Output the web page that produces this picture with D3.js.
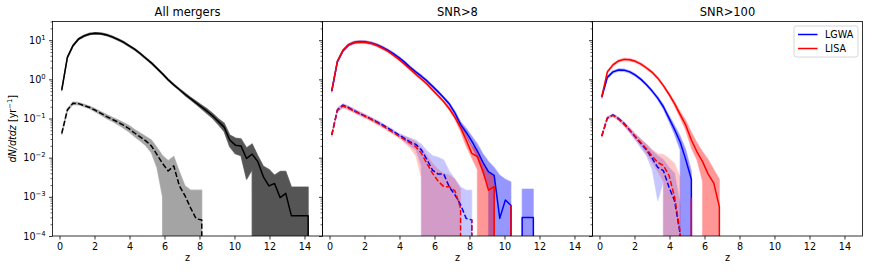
<!DOCTYPE html>
<html><head><meta charset="utf-8">
<script src="https://cdn.jsdelivr.net/npm/d3@7"></script>
<style>body{margin:0;background:#fff} svg{display:block} text{font-family:"DejaVu Sans",sans-serif}</style>
</head><body><svg id="c" width="869" height="272"></svg>
<script>
// ---- data (redshift bin centres; rates given as log10 of dN/dtdz in yr^-1, null = no events) ----
const z = [0.13,0.45,0.77,1.09,1.41,1.73,2.05,2.37,2.69,3.01,3.33,3.65,3.97,4.29,4.61,4.93,5.25,5.57,5.89,6.21,6.53,6.85,7.17,7.49,7.81,8.13,8.45,8.77,9.09,9.41,9.73,10.05,10.37,10.69,11.01,11.33,11.65,11.97,12.29,12.61,12.93,13.25,13.57,13.89,14.21,14.53];

// Panel 1: All mergers
const allTotal   = [-0.27,0.56,0.86,1.03,1.11,1.16,1.175,1.165,1.135,1.085,1.02,0.95,0.86,0.77,0.66,0.54,0.42,0.28,0.14,-0.01,-0.14,-0.26,-0.38,-0.49,-0.60,-0.71,-0.82,-0.94,-1.08,-1.22,-1.55,-1.68,-1.70,-2.02,-1.91,-2.10,-2.49,-2.72,-2.66,-3.02,-2.91,-3.48,-3.48,-3.48,-3.48,null];
const allTotalLo = [-0.29,0.54,0.84,1.01,1.09,1.14,1.155,1.145,1.115,1.065,1.0,0.93,0.84,0.75,0.64,0.52,0.40,0.26,0.12,-0.03,-0.16,-0.28,-0.41,-0.52,-0.64,-0.76,-0.88,-1.0,-1.16,-1.33,-1.72,-1.90,-1.95,-2.55,-2.3,null,null,null,null,null,null,null,null,null,null,null];
const allTotalHi = [-0.25,0.58,0.88,1.05,1.13,1.18,1.195,1.185,1.155,1.105,1.04,0.97,0.88,0.79,0.68,0.56,0.44,0.30,0.16,0.01,-0.12,-0.24,-0.35,-0.46,-0.56,-0.66,-0.76,-0.88,-1.01,-1.12,-1.42,-1.50,-1.52,-1.75,-1.65,-1.95,-2.22,-2.30,-2.45,-2.35,-2.35,-2.75,-2.75,-2.75,-2.75,null];
const allSub     = [-1.38,-0.78,-0.61,-0.62,-0.67,-0.72,-0.79,-0.87,-0.95,-1.02,-1.09,-1.17,-1.26,-1.37,-1.47,-1.57,-1.70,-1.92,-2.15,-2.34,-2.21,-2.72,-2.97,-3.28,-3.56,-3.59,null];
const allSubLo   = [-1.41,-0.81,-0.64,-0.65,-0.70,-0.75,-0.83,-0.91,-1.0,-1.07,-1.15,-1.24,-1.34,-1.46,-1.57,-1.69,-1.87,-2.25,-3.0,null,null,null,null,null,null,null,null];
const allSubHi   = [-1.35,-0.75,-0.58,-0.59,-0.64,-0.69,-0.75,-0.83,-0.90,-0.97,-1.03,-1.10,-1.18,-1.28,-1.37,-1.46,-1.55,-1.74,-1.95,-2.08,-1.97,-2.36,-2.72,-2.83,-2.83,-2.83,null];

// Panel 2: SNR>8
const lgwa8      = [-0.30,0.45,0.73,0.88,0.94,0.96,0.955,0.93,0.885,0.82,0.745,0.655,0.555,0.44,0.31,0.19,0.08,-0.04,-0.18,-0.32,-0.47,-0.63,-0.86,-1.15,-1.35,-1.58,-1.83,-2.12,-2.36,-2.45,-3.55,-3.08,-3.22,null,-3.53,-3.53,-3.53,null];
const lgwa8Lo    = [-0.33,0.42,0.70,0.85,0.91,0.93,0.925,0.90,0.855,0.79,0.715,0.625,0.525,0.41,0.28,0.16,0.05,-0.07,-0.21,-0.35,-0.50,-0.67,-0.91,-1.22,-1.45,-1.72,-2.0,-2.4,-2.75,null,null,null,null,null,null,null,null,null];
const lgwa8Hi    = [-0.27,0.48,0.76,0.91,0.97,0.99,0.985,0.96,0.915,0.85,0.775,0.685,0.585,0.47,0.34,0.22,0.11,-0.01,-0.15,-0.29,-0.44,-0.59,-0.81,-1.08,-1.25,-1.45,-1.65,-1.9,-2.1,-2.25,-2.45,-2.55,-2.62,null,-2.8,-2.8,-2.8,null];
const lisa8      = [-0.29,0.46,0.74,0.88,0.94,0.955,0.95,0.92,0.87,0.80,0.72,0.62,0.51,0.39,0.26,0.13,0.01,-0.12,-0.27,-0.42,-0.57,-0.75,-0.97,-1.23,-1.55,-1.89,-1.97,-2.35,-2.83,-2.74,null,null,-3.22,null];
const lisa8Lo    = [-0.32,0.43,0.71,0.85,0.91,0.925,0.92,0.89,0.84,0.77,0.69,0.59,0.48,0.36,0.23,0.10,-0.02,-0.15,-0.30,-0.45,-0.60,-0.79,-1.02,-1.33,-1.70,-2.0,-2.3,null,null,null,null,null,null,null];
const lisa8Hi    = [-0.26,0.49,0.77,0.91,0.97,0.985,0.98,0.95,0.90,0.83,0.75,0.65,0.54,0.42,0.29,0.16,0.04,-0.09,-0.24,-0.39,-0.54,-0.71,-0.92,-1.13,-1.40,-1.70,-1.80,-2.15,-2.40,-2.45,null,null,null,null];
const lgwa8Sub   = [-1.42,-0.78,-0.66,-0.72,-0.80,-0.87,-0.94,-1.01,-1.08,-1.16,-1.24,-1.33,-1.42,-1.51,-1.60,-1.66,-1.80,-2.05,-2.32,-2.42,-2.42,-2.75,-2.95,-3.2,-3.55,-3.59,null];
const lgwa8SubLo = [-1.46,-0.82,-0.70,-0.76,-0.84,-0.91,-0.98,-1.05,-1.12,-1.20,-1.28,-1.37,-1.46,-1.58,-1.70,-1.80,-2.2,null,null,null,null,null,null,null,null,null,null];
const lgwa8SubHi = [-1.38,-0.74,-0.62,-0.68,-0.76,-0.83,-0.90,-0.97,-1.04,-1.12,-1.20,-1.29,-1.38,-1.44,-1.50,-1.55,-1.66,-1.82,-1.95,-1.99,-2.06,-2.35,-2.55,-2.75,-2.83,-2.83,null];
const lisa8Sub   = [-1.42,-0.79,-0.68,-0.74,-0.81,-0.88,-0.95,-1.02,-1.10,-1.18,-1.27,-1.36,-1.45,-1.54,-1.63,-1.72,-1.89,-2.15,-2.40,-2.60,-2.74,-2.74,-2.85,-3.29,null,-3.59,null];
const lisa8SubLo = [-1.47,-0.84,-0.73,-0.79,-0.86,-0.93,-1.0,-1.07,-1.15,-1.23,-1.32,-1.41,-1.50,-1.62,-1.75,-1.95,-2.5,null,null,null,null,null,null,null,null,null,null];
const lisa8SubHi = [-1.37,-0.74,-0.63,-0.69,-0.76,-0.83,-0.90,-0.97,-1.05,-1.13,-1.22,-1.31,-1.40,-1.46,-1.52,-1.60,-1.75,-1.95,-2.15,-2.30,-2.40,-2.45,-2.55,-2.80,null,null,null];

// Panel 3: SNR>100
const lgwa100      = [-0.45,0.05,0.19,0.24,0.235,0.19,0.11,0.0,-0.14,-0.30,-0.48,-0.70,-0.99,-1.28,-1.60,-2.05,-2.55,null];
const lgwa100Lo    = [-0.48,0.02,0.16,0.21,0.205,0.16,0.08,-0.03,-0.17,-0.33,-0.52,-0.76,-1.07,-1.40,-1.80,null,null,null];
const lgwa100Hi    = [-0.42,0.08,0.22,0.27,0.265,0.22,0.14,0.03,-0.11,-0.27,-0.44,-0.65,-0.92,-1.18,-1.45,-1.80,-2.35,null];
const lisa100      = [-0.45,0.19,0.37,0.47,0.51,0.50,0.46,0.39,0.29,0.18,0.03,-0.16,-0.38,-0.62,-0.90,-1.17,-1.55,-1.85,-2.10,-2.42,-2.65,-3.25,null];
const lisa100Lo    = [-0.48,0.16,0.34,0.44,0.48,0.47,0.43,0.36,0.26,0.15,0.0,-0.19,-0.42,-0.68,-0.98,-1.30,-1.75,-2.05,-2.6,null,null,null,null];
const lisa100Hi    = [-0.42,0.22,0.40,0.50,0.54,0.53,0.49,0.42,0.32,0.21,0.06,-0.13,-0.34,-0.57,-0.82,-1.05,-1.35,-1.62,-1.85,-2.05,-2.3,-2.55,null];
const lgwa100Sub   = [-1.45,-0.99,-0.91,-1.00,-1.13,-1.30,-1.47,-1.64,-1.80,-2.02,-2.25,-2.33,-2.75,-3.10,-3.95,null];
const lgwa100SubLo = [-1.48,-1.02,-0.94,-1.04,-1.18,-1.36,-1.55,-1.75,-1.95,-2.3,-3.1,-2.6,null,null,null,null];
const lgwa100SubHi = [-1.42,-0.96,-0.88,-0.96,-1.08,-1.24,-1.40,-1.53,-1.66,-1.82,-1.95,-2.05,-2.25,-2.4,-3.2,null];
const lisa100Sub   = [-1.45,-0.98,-0.92,-1.02,-1.15,-1.30,-1.46,-1.62,-1.78,-1.96,-2.12,-2.20,-2.45,-3.0,-3.9,null,-3.05,null];
const lisa100SubLo = [-1.48,-1.01,-0.95,-1.06,-1.20,-1.36,-1.53,-1.70,-1.90,-2.12,-2.35,-2.6,null,null,null,null,null,null];
const lisa100SubHi = [-1.42,-0.95,-0.89,-0.98,-1.10,-1.24,-1.39,-1.53,-1.66,-1.80,-1.90,-1.92,-2.02,-2.15,-2.5,null,null,null];

const panelTitles = ["All mergers", "SNR>8", "SNR>100"];
const xTicks = [0, 2, 4, 6, 8, 10, 12, 14];
const yTicks = [1e-4, 1e-3, 1e-2, 1e-1, 1e0, 1e1];
const yTickExps = ["\u22124", "\u22123", "\u22122", "\u22121", "0", "1"];
const legendLabels = ["LGWA", "LISA"];
const legendColors = ["#0000ff", "#ff0000"];

// ---- layout ----
const svg = d3.select("#c");
const plotTop = 21.5, plotBottom = 236, panelW = 270;
const lefts = [52.5, 322.5, 592.5];
const FAR = 12000;
const y = d3.scaleLog().domain([1e-4, 30]).range([plotBottom, plotTop]);
const yv = e => (e == null ? FAR : y(Math.pow(10, e)));

const panels = [
  [
    {v: allTotal, lo: allTotalLo, hi: allTotalHi, color: "#000", dash: false, oA: 0.53, iA: 0.29},
    {v: allSub, lo: allSubLo, hi: allSubHi, color: "#000", dash: true, oA: 0.25, iA: 0.14}
  ],
  [
    {v: lgwa8, lo: lgwa8Lo, hi: lgwa8Hi, color: "#0000ff", dash: false, oA: 0.22, iA: 0.24},
    {v: lgwa8Sub, lo: lgwa8SubLo, hi: lgwa8SubHi, color: "#0000ff", dash: true, oA: 0.11, iA: 0.12},
    {v: lisa8, lo: lisa8Lo, hi: lisa8Hi, color: "#ff0000", dash: false, oA: 0.22, iA: 0.24},
    {v: lisa8Sub, lo: lisa8SubLo, hi: lisa8SubHi, color: "#ff0000", dash: true, oA: 0.11, iA: 0.12}
  ],
  [
    {v: lgwa100, lo: lgwa100Lo, hi: lgwa100Hi, color: "#0000ff", dash: false, oA: 0.22, iA: 0.24},
    {v: lgwa100Sub, lo: lgwa100SubLo, hi: lgwa100SubHi, color: "#0000ff", dash: true, oA: 0.11, iA: 0.12},
    {v: lisa100, lo: lisa100Lo, hi: lisa100Hi, color: "#ff0000", dash: false, oA: 0.22, iA: 0.24},
    {v: lisa100Sub, lo: lisa100SubLo, hi: lisa100SubHi, color: "#ff0000", dash: true, oA: 0.11, iA: 0.12}
  ]
];

const minorTicks = y.ticks().filter(t => Math.abs(Math.log10(t) - Math.round(Math.log10(t))) > 1e-6);

panels.forEach((series, p) => {
  const L = lefts[p];
  const x = d3.scaleLinear().domain([-0.4, 15.03]).range([L, L + panelW]);
  const g = svg.append("g");
  const clipId = "clip" + p;
  svg.append("clipPath").attr("id", clipId).append("rect")
    .attr("x", L).attr("y", plotTop).attr("width", panelW).attr("height", plotBottom - plotTop);
  const plot = g.append("g").attr("clip-path", `url(#${clipId})`);

  // bands
  series.forEach(s => {
    const idx = d3.range(s.lo.length);
    const area = d3.area().x(i => x(z[i])).y0(i => yv(s.lo[i])).y1(i => yv(s.hi[i]));
    plot.append("g").attr("opacity", s.oA).append("path").attr("d", area(idx))
      .attr("fill", s.color).attr("stroke", s.color).attr("stroke-width", 1.2).attr("stroke-linejoin", "round");
    plot.append("path").attr("d", area(idx)).attr("fill", s.color).attr("fill-opacity", s.iA);
  });
  // lines
  series.forEach(s => {
    const idx = d3.range(s.v.length);
    const line = d3.line().x(i => x(z[i])).y(i => yv(s.v[i]));
    plot.append("path").attr("d", line(idx)).attr("fill", "none").attr("stroke", s.color)
      .attr("stroke-width", 1.5).attr("stroke-linejoin", "round")
      .attr("stroke-dasharray", s.dash ? "5.3,2.3" : null);
  });

  // x axis
  const ax = g.append("g").attr("transform", `translate(0,${plotBottom})`)
    .call(d3.axisBottom(x).tickValues(xTicks).tickSize(3.5).tickPadding(3.4).tickFormat(d3.format("d")));
  ax.select(".domain").remove();
  ax.attr("font-family", null).attr("font-size", null);
  ax.selectAll("text").attr("font-size", "9.6px").attr("fill", "#000");
  ax.selectAll("line").attr("stroke", "#000").attr("stroke-width", 0.8);

  // y axis minor
  const aym = g.append("g").attr("transform", `translate(${L},0)`)
    .call(d3.axisLeft(y).tickValues(minorTicks).tickSize(2).tickFormat(""));
  aym.select(".domain").remove();
  aym.selectAll("line").attr("stroke", "#000").attr("stroke-width", 0.6);
  // y axis major
  const ay = g.append("g").attr("transform", `translate(${L},0)`)
    .call(d3.axisLeft(y).tickValues(yTicks).tickSize(3.5).tickPadding(3.4).tickFormat(p === 0 ? (d => "10") : ""));
  ay.select(".domain").remove();
  ay.attr("font-family", null).attr("font-size", null);
  ay.selectAll("line").attr("stroke", "#000").attr("stroke-width", 0.8);
  if (p === 0) {
    ay.selectAll(".tick text").each(function(d, i) {
      const t = d3.select(this).text(null).attr("font-size", "9.6px").attr("fill", "#000");
      t.append("tspan").text("10");
      t.append("tspan").attr("font-size", "6.8px").attr("dy", "-4").text(yTickExps[i]);
    });
  }

  // frame
  g.append("rect").attr("x", L).attr("y", plotTop).attr("width", panelW).attr("height", plotBottom - plotTop)
    .attr("fill", "none").attr("stroke", "#000").attr("stroke-width", 0.8);

  // title and x label
  g.append("text").attr("x", L + panelW / 2).attr("y", 15.5).attr("text-anchor", "middle")
    .attr("font-size", "11.5px").attr("fill", "#000").text(panelTitles[p]);
  g.append("text").attr("x", L + panelW / 2).attr("y", 261).attr("text-anchor", "middle")
    .attr("font-size", "9.6px").attr("fill", "#000").text("z");
});

// y label
const yl = svg.append("text").attr("transform", `translate(16,${(plotTop + plotBottom) / 2}) rotate(-90)`)
  .attr("text-anchor", "middle").attr("font-size", "9.6px").attr("fill", "#000");
yl.append("tspan").attr("font-style", "italic").text("dN/dtdz");
yl.append("tspan").text(" [yr");
yl.append("tspan").attr("font-size", "6.8px").attr("dy", "-4").text("\u22121");
yl.append("tspan").attr("dy", "4").text("]");

// legend
const lg = svg.append("g");
lg.append("rect").attr("x", 794).attr("y", 26).attr("width", 64).attr("height", 31).attr("rx", 2.5)
  .attr("fill", "#fff").attr("fill-opacity", 0.8).attr("stroke", "#cccccc").attr("stroke-width", 0.8);
legendLabels.forEach((lab, i) => {
  const yy = 34.5 + i * 14;
  lg.append("line").attr("x1", 798).attr("x2", 817.5).attr("y1", yy).attr("y2", yy)
    .attr("stroke", legendColors[i]).attr("stroke-width", 1.5);
  lg.append("text").attr("x", 825).attr("y", yy + 3.5).attr("font-size", "9.6px").attr("fill", "#000").text(lab);
});
</script></body></html>
